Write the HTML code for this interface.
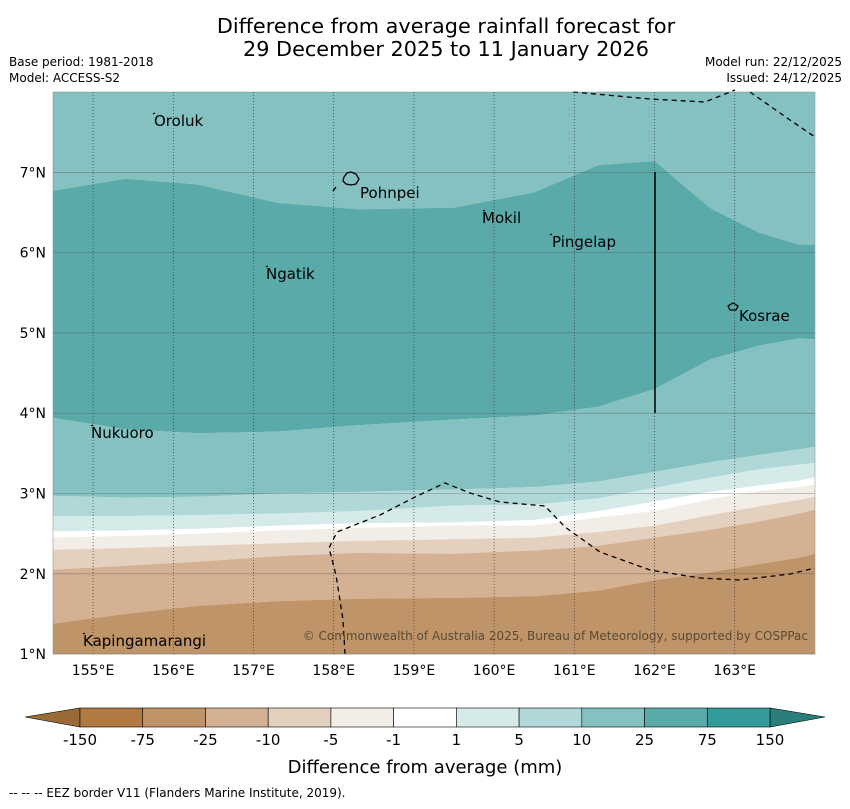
<!DOCTYPE html>
<html><head><meta charset="utf-8"><style>
body{margin:0;background:#fff;font-family:"Liberation Sans","DejaVu Sans",sans-serif}
</style></head><body>
<svg width="850" height="804" xmlns="http://www.w3.org/2000/svg" font-family="DejaVu Sans, Liberation Sans, sans-serif">
<text x="446" y="33" text-anchor="middle" font-size="20.8">Difference from average rainfall forecast for</text>
<text x="446" y="56" text-anchor="middle" font-size="20.8">29 December 2025 to 11 January 2026</text>
<text x="9" y="66" font-size="12">Base period: 1981-2018</text>
<text x="9" y="82" font-size="12">Model: ACCESS-S2</text>
<text x="842" y="66" font-size="12" text-anchor="end">Model run: 22/12/2025</text>
<text x="842" y="82" font-size="12" text-anchor="end">Issued: 24/12/2025</text>
<defs><clipPath id="mc"><rect x="53" y="92" width="762" height="562"/></clipPath></defs>
<g id="map" clip-path="url(#mc)"></g>
<g id="ov"></g>
<g id="cb"></g>
<text x="425" y="773" text-anchor="middle" font-size="18">Difference from average (mm)</text>
<text x="9" y="797" font-size="12">--  --  -- EEZ border V11 (Flanders Marine Institute, 2019).</text>
</svg>
<script>
const NS="http://www.w3.org/2000/svg";
const lonMin=154.5,lonMax=164,latMin=1,latMax=8;
const X=l=>53+(l-lonMin)*80.2, Y=la=>92+(latMax-la)*80.3;
// Contour boundaries: longitudes and latitude of each band boundary (top to bottom)
const lons=[154.5,155.4,156.3,157.3,158.3,159.5,160.5,161.3,162.0,162.7,163.3,163.8,164];
const bnd25hi=[6.77,6.92,6.85,6.62,6.54,6.56,6.75,7.09,7.14,6.55,6.25,6.1,6.1];
const bnd25lo=[3.94,3.8,3.75,3.77,3.85,3.92,3.97,4.08,4.3,4.67,4.84,4.93,4.92];
const bnd10=[2.97,2.95,2.96,3.0,3.02,3.05,3.08,3.15,3.27,3.39,3.48,3.55,3.58];
const bnd5=[2.72,2.72,2.73,2.75,2.78,2.85,2.86,2.94,3.07,3.2,3.3,3.36,3.38];
const bnd1=[2.53,2.54,2.56,2.6,2.63,2.64,2.67,2.78,2.9,3.02,3.1,3.16,3.2];
const bndm1=[2.45,2.47,2.5,2.54,2.57,2.6,2.6,2.7,2.78,2.93,3.03,3.08,3.11];
const bndm5=[2.3,2.32,2.35,2.38,2.41,2.43,2.45,2.52,2.6,2.73,2.84,2.92,2.96];
const bndm10=[2.05,2.1,2.15,2.22,2.26,2.25,2.29,2.35,2.45,2.55,2.65,2.75,2.8];
const bndm25=[1.38,1.5,1.6,1.66,1.69,1.7,1.72,1.79,1.92,2.02,2.12,2.2,2.25];
const bands=[[null,bnd25hi,"#85c1c0","band-10-25-north"],[bnd25hi,bnd25lo,"#5aaaaa","band-25-75"],[bnd25lo,bnd10,"#85c1c0","band-10-25-south"],[bnd10,bnd5,"#b1d8d8","band-5-10"],[bnd5,bnd1,"#d6eaea","band-1-5"],[bnd1,bndm1,"#ffffff","band-neutral"],[bndm1,bndm5,"#f2ede6","band-minus1-5"],[bndm5,bndm10,"#e3d0bf","band-minus5-10"],[bndm10,bndm25,"#d4b192","band-minus10-25"],[bndm25,null,"#bf9468","band-minus25-75"]];
const map=document.getElementById('map');
bands.forEach(b=>{
 let top=b[0]?lons.map((l,i)=>[X(l),Y(b[0][i])]):[[X(lonMin),Y(latMax)],[X(lonMax),Y(latMax)]];
 let bot=b[1]?lons.map((l,i)=>[X(l),Y(b[1][i])]):[[X(lonMin),Y(latMin)],[X(lonMax),Y(latMin)]];
 const pts=top.concat(bot.reverse()).map(p=>p.join(',')).join(' ');
 const p=document.createElementNS(NS,'polygon');p.setAttribute('points',pts);p.setAttribute('fill',b[2]);
 
 
 map.appendChild(p);});
const ov=document.getElementById('ov');
function el(t,a,par){const e=document.createElementNS(NS,t);for(const k in a)e.setAttribute(k,a[k]);(par||ov).appendChild(e);return e;}
const lonTicks=[155,156,157,158,159,160,161,162,163];
const latTicks=[1,2,3,4,5,6,7];
lonTicks.forEach(l=>{const g=el('line',{x1:X(l),x2:X(l),y1:92,y2:654,stroke:'#333','stroke-width':0.7,'stroke-dasharray':'1,2'});


const t=el('text',{x:X(l),y:675,'text-anchor':'middle','font-size':14});t.textContent=l+'°E';

});
latTicks.forEach(la=>{const g=el('line',{x1:53,x2:815,y1:Y(la),y2:Y(la),stroke:'#555','stroke-width':0.6,'stroke-opacity':0.6});


const t=el('text',{x:46,y:Y(la)+5,'text-anchor':'end','font-size':14});t.textContent=la+'°N';

});
// EEZ dashed
[[[573,92],[650,99],[705,102],[735,90]],[[750,92],[790,120],[815,137]],[[345,654],[343,620],[336,575],[329,548],[337,532],[380,515],[415,497],[445,483],[470,493],[500,502],[545,506],[565,527],[600,552],[650,570],[700,578],[740,580],[790,574],[815,568]],[[333,191],[336,187]]].forEach((pp,i)=>{const e=el('polyline',{points:pp.map(p=>p.join(',')).join(' '),fill:'none',stroke:'#000','stroke-width':1.3,'stroke-dasharray':'5,4'});

});
const vl=el('line',{x1:655,x2:655,y1:172,y2:413,stroke:'#000','stroke-width':1.5});


const ponh=el('path',{d:'M344,177 l3,-4 l4,-1 l5,2 l3,5 l-3,5 l-5,1 l-5,-1 l-3,-3 z',fill:'none',stroke:'#000','stroke-width':1.3});


const kos=el('path',{d:'M728,306 l5,-3 l5,3 l-2,4 l-6,0 z',fill:'none',stroke:'#000','stroke-width':1.2});


const places=[["Oroluk",154,126,153,114],["Pohnpei",360,198,0,0],["Mokil",482,223,483,211],["Pingelap",552,247,550,235],["Ngatik",266,279,266,267],["Kosrae",739,321,0,0],["Nukuoro",91,438,91,426],["Kapingamarangi",83,646,83,634]];
places.forEach(p=>{const t=el('text',{x:p[1],y:p[2],'font-size':15});t.textContent=p[0];


if(p[3]){const d=el('line',{x1:p[3],y1:p[4],x2:p[3]+2,y2:p[4]-1,stroke:'#000','stroke-width':1.2});

}});
const cr=el('text',{x:808,y:640,'text-anchor':'end','font-size':12,fill:'#5a4a33'});cr.textContent='© Commonwealth of Australia 2025, Bureau of Meteorology, supported by COSPPac';


const fr=el('rect',{x:53,y:92,width:762,height:562,fill:'none',stroke:'#888','stroke-width':0.5});


// colorbar
const cbLabels=["-150","-75","-25","-10","-5","-1","1","5","10","25","75","150"];
const cbColors=["#b07a42","#bf9468","#d4b192","#e3d0bf","#f2ede6","#ffffff","#d6eaea","#b1d8d8","#85c1c0","#5aaaaa","#339b9a"];
const cb=document.getElementById('cb');
const x0=80,x1=770,w=(x1-x0)/cbColors.length;
let tl=el('polygon',{points:`25,717 ${x0},708 ${x0},727`,fill:'#9a6a38',stroke:'#000','stroke-width':0.6},cb);


let tr=el('polygon',{points:`825,717 ${x1},708 ${x1},727`,fill:'#2a7f7d',stroke:'#000','stroke-width':0.6},cb);


cbColors.forEach((c,i)=>{const r=el('rect',{x:x0+i*w,y:708,width:w,height:19,fill:c,stroke:'#000','stroke-width':0.6},cb);

});
cbLabels.forEach((s,i)=>{const t=el('text',{x:x0+i*w,y:745,'text-anchor':'middle','font-size':15},cb);t.textContent=s;

});
</script>
</body></html>
